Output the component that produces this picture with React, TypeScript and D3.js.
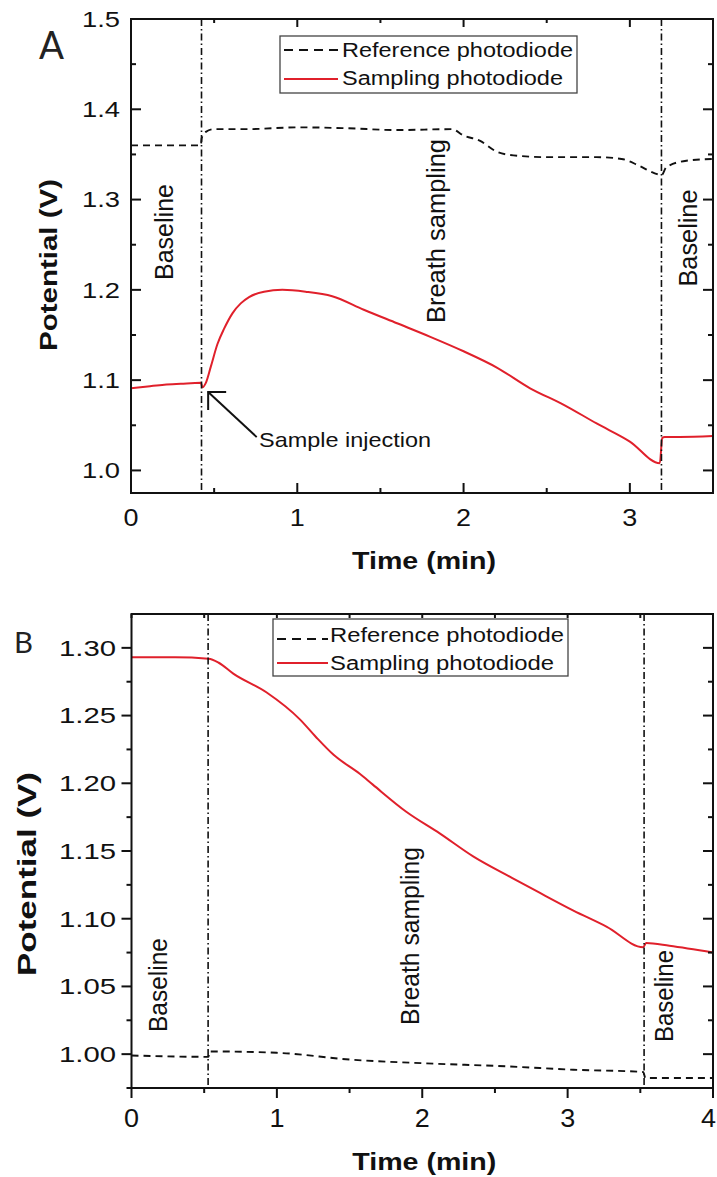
import React from 'react';
import * as d3 from 'd3';

// ---------- Panel A data ----------
const aSampT = [0, 0.1, 0.2, 0.3, 0.42, 0.43, 0.45, 0.48, 0.52, 0.56, 0.61, 0.66, 0.71, 0.8, 0.91, 1.05, 1.21, 1.4, 1.6, 1.8, 2.0, 2.2, 2.4, 2.6, 2.8, 3.0, 3.18, 3.195, 3.21, 3.3, 3.5];
const aSampV = [1.091, 1.093, 1.095, 1.096, 1.097, 1.092, 1.097, 1.115, 1.14, 1.157, 1.174, 1.185, 1.192, 1.198, 1.2, 1.198, 1.193, 1.178, 1.163, 1.148, 1.132, 1.114, 1.091, 1.073, 1.052, 1.032, 1.008, 1.036, 1.037, 1.037, 1.038];
const aRefT = [0, 0.42, 0.425, 0.45, 0.5, 0.7, 1.0, 1.3, 1.6, 1.93, 2.0, 2.1, 2.2, 2.3, 2.5, 2.8, 2.95, 3.05, 3.15, 3.19, 3.22, 3.34, 3.5];
const aRefV = [1.36, 1.36, 1.368, 1.375, 1.378, 1.378, 1.38, 1.379, 1.377, 1.378, 1.371, 1.365, 1.353, 1.349, 1.347, 1.347, 1.345, 1.338, 1.329, 1.327, 1.336, 1.343, 1.345];
const aEvents = [0.424, 3.19];
const aXTicks = [0, 1, 2, 3];
const aXMinor = [0.5, 1.5, 2.5, 3.5];
const aYTicks = [1.0, 1.1, 1.2, 1.3, 1.4, 1.5];
const aYMinor = [1.05, 1.15, 1.25, 1.35, 1.45];

// ---------- Panel B data ----------
const bSampT = [0, 0.3, 0.53, 0.6, 0.7, 0.93, 1.16, 1.27, 1.39, 1.57, 1.66, 1.89, 2.12, 2.35, 2.62, 2.81, 3.04, 3.27, 3.52, 3.54, 3.7, 4.0];
const bSampV = [1.293, 1.293, 1.292, 1.289, 1.281, 1.267, 1.247, 1.234, 1.221, 1.207, 1.199, 1.179, 1.163, 1.146, 1.13, 1.119, 1.106, 1.094, 1.079, 1.082, 1.08, 1.075];
const bRefT = [0, 0.53, 0.535, 1.0, 1.5, 2.0, 2.58, 3.04, 3.52, 3.535, 4.0];
const bRefV = [0.999, 0.998, 1.002, 1.001, 0.996, 0.9933, 0.991, 0.9885, 0.9868, 0.9824, 0.9824];
const bEvents = [0.527, 3.526];
const bXTicks = [0, 1, 2, 3, 4];
const bXMinor = [0.5, 1.5, 2.5, 3.5];
const bYTicks = [1.0, 1.05, 1.1, 1.15, 1.2, 1.25, 1.3];
const bYMinor = [0.975, 1.025, 1.075, 1.125, 1.175, 1.225, 1.275];

const seriesNames = ['Reference photodiode', 'Sampling photodiode'];
const RED = '#e0202b';
const FONT = "'Liberation Sans', Arial, sans-serif";
const W = 717;

type Txt = { text: string; x: number; y: number; size: number; len: number; rot?: boolean; bold?: boolean; anchor?: string };

function T({ t }: { t: Txt }) {
  const common: any = {
    fontFamily: FONT,
    fontSize: t.size,
    fontWeight: t.bold ? 'bold' : 'normal',
    textLength: t.len,
    lengthAdjust: 'spacingAndGlyphs',
    textAnchor: t.anchor || 'middle',
    fill: '#111',
  };
  if (t.rot) {
    return (
      <text {...common} transform={`translate(${t.x},${t.y}) rotate(-90)`}>
        {t.text}
      </text>
    );
  }
  return (
    <text {...common} x={t.x} y={t.y}>
      {t.text}
    </text>
  );
}

type PanelProps = {
  left: number; right: number; top: number; bottom: number;
  xDomain: [number, number]; yDomain: [number, number];
  xTicks: number[]; xMinor: number[]; yTicks: number[]; yMinor: number[];
  yFmt: string; outward: boolean;
  sampT: number[]; sampV: number[]; refT: number[]; refV: number[];
  events: number[];
  yLabel: { size: number; len: number; x: number; y: number };
  yTickSize: number; yTickLen: number; yTickEnd: number;
  xTickSize: number; xTickLen: number; xTickBase: number;
  xTitleBase: number;
  legend: { x0: number; x1: number; y0: number; y1: number; textX: number; row1: number; row2: number; dashY: number; redY: number; len1: number; len2: number; lineX0: number; lineX1: number };
  annotations: Txt[];
  letter: { text: string; x: number; y: number; size: number; len: number };
  arrow?: { tip: [number, number]; tail: [number, number] };
};

function Panel(p: PanelProps) {
  const x = d3.scaleLinear().domain(p.xDomain).range([p.left, p.right]);
  const y = d3.scaleLinear().domain(p.yDomain).range([p.bottom, p.top]);
  const line = d3
    .line<[number, number]>()
    .x((d) => x(d[0]))
    .y((d) => y(d[1]))
    .curve(d3.curveMonotoneX);
  const samp = p.sampT.map((t, i) => [t, p.sampV[i]] as [number, number]);
  const ref = p.refT.map((t, i) => [t, p.refV[i]] as [number, number]);
  const fmt = d3.format(p.yFmt);
  const MJ = 10, MN = 5;
  const dirB = p.outward ? 1 : -1; // bottom tick direction
  const dirL = p.outward ? -1 : 1; // left tick direction
  const cx = (p.left + p.right) / 2;

  return (
    <g>
      {/* data */}
      <path d={line(ref) || ''} fill="none" stroke="#111" strokeWidth={1.9} strokeDasharray="7,5" />
      <path d={line(samp) || ''} fill="none" stroke={RED} strokeWidth={2} />
      {/* event lines */}
      {p.events.map((e, i) => (
        <line key={'ev' + i} x1={x(e)} x2={x(e)} y1={p.top} y2={p.bottom} stroke="#111" strokeWidth={1.6} strokeDasharray="7,3,1.5,3" />
      ))}
      {/* frame */}
      <rect x={p.left} y={p.top} width={p.right - p.left} height={p.bottom - p.top} fill="none" stroke="#111" strokeWidth={2} />
      {/* bottom / top ticks */}
      {p.xTicks.map((t) => (
        <g key={'xt' + t}>
          <line x1={x(t)} x2={x(t)} y1={p.bottom} y2={p.bottom + dirB * MJ} stroke="#111" strokeWidth={2} />
          <line x1={x(t)} x2={x(t)} y1={p.top} y2={p.top + (p.outward ? 4 : 8)} stroke="#111" strokeWidth={2} />
          <T t={{ text: String(t), x: Math.min(x(t), W - p.xTickLen / 2 - 1), y: p.xTickBase, size: p.xTickSize, len: p.xTickLen }} />
        </g>
      ))}
      {p.xMinor.map((t) => (
        <g key={'xm' + t}>
          <line x1={x(t)} x2={x(t)} y1={p.bottom} y2={p.bottom + dirB * MN} stroke="#111" strokeWidth={2} />
          <line x1={x(t)} x2={x(t)} y1={p.top} y2={p.top + 4} stroke="#111" strokeWidth={2} />
        </g>
      ))}
      {/* left / right ticks */}
      {p.yTicks.map((v) => (
        <g key={'yt' + v}>
          <line x1={p.left} x2={p.left + dirL * MJ} y1={y(v)} y2={y(v)} stroke="#111" strokeWidth={2} />
          <line x1={p.right} x2={p.right - MJ} y1={y(v)} y2={y(v)} stroke="#111" strokeWidth={2} />
          <T t={{ text: fmt(v), x: p.yTickEnd, y: y(v) + p.yTickSize * 0.36, size: p.yTickSize, len: p.yTickLen, anchor: 'end' }} />
        </g>
      ))}
      {p.yMinor.map((v) => (
        <g key={'ym' + v}>
          <line x1={p.left} x2={p.left + dirL * MN} y1={y(v)} y2={y(v)} stroke="#111" strokeWidth={2} />
          <line x1={p.right} x2={p.right - MN} y1={y(v)} y2={y(v)} stroke="#111" strokeWidth={2} />
        </g>
      ))}
      {/* axis titles */}
      <T t={{ text: 'Time (min)', x: cx + 2, y: p.xTitleBase, size: 24, len: 144, bold: true }} />
      <T t={{ text: 'Potential (V)', x: p.yLabel.x, y: p.yLabel.y, size: p.yLabel.size, len: p.yLabel.len, bold: true, rot: true }} />
      {/* legend */}
      <rect x={p.legend.x0} y={p.legend.y0} width={p.legend.x1 - p.legend.x0} height={p.legend.y1 - p.legend.y0} fill="#fff" stroke="#444" strokeWidth={1.3} />
      <line x1={p.legend.lineX0} x2={p.legend.lineX1} y1={p.legend.dashY} y2={p.legend.dashY} stroke="#111" strokeWidth={1.9} strokeDasharray="9,6" />
      <line x1={p.legend.lineX0} x2={p.legend.lineX1} y1={p.legend.redY} y2={p.legend.redY} stroke={RED} strokeWidth={2} />
      <T t={{ text: seriesNames[0], x: p.legend.textX, y: p.legend.row1, size: 20, len: p.legend.len1, anchor: 'start' }} />
      <T t={{ text: seriesNames[1], x: p.legend.textX, y: p.legend.row2, size: 20, len: p.legend.len2, anchor: 'start' }} />
      {/* annotations */}
      {p.annotations.map((a, i) => (
        <T key={'an' + i} t={a} />
      ))}
      {p.arrow && (
        <g stroke="#111" strokeWidth={2} fill="none">
          <line x1={x(p.arrow.tail[0])} y1={y(p.arrow.tail[1])} x2={x(p.arrow.tip[0])} y2={y(p.arrow.tip[1])} />
          <polyline
            points={`${x(p.arrow.tip[0]) + 18},${y(p.arrow.tip[1])} ${x(p.arrow.tip[0])},${y(p.arrow.tip[1])} ${x(p.arrow.tip[0])},${y(p.arrow.tip[1]) + 18}`}
          />
        </g>
      )}
      <text x={p.letter.x} y={p.letter.y} fontFamily="Lato, 'Open Sans', sans-serif" fontWeight={400} fontSize={p.letter.size} textLength={p.letter.len} lengthAdjust="spacingAndGlyphs" fill="#222">
        {p.letter.text}
      </text>
    </g>
  );
}

export default function App() {
  return (
    <svg width={717} height={1177} style={{ position: 'absolute', left: 0, top: 0, background: '#fff' }}>
      <rect x={0} y={0} width={717} height={1177} fill="#fff" />
      <Panel
        left={131} right={713} top={19} bottom={493}
        xDomain={[0, 3.5]} yDomain={[0.975, 1.5]}
        xTicks={aXTicks} xMinor={aXMinor} yTicks={aYTicks} yMinor={aYMinor}
        yFmt=".1f" outward={false}
        sampT={aSampT} sampV={aSampV} refT={aRefT} refV={aRefV}
        events={aEvents}
        yLabel={{ size: 24, len: 172, x: 57, y: 265 }}
        yTickSize={22} yTickLen={38} yTickEnd={120}
        xTickSize={24} xTickLen={15} xTickBase={526}
        xTitleBase={569}
        legend={{ x0: 280, x1: 577, y0: 36, y1: 93, textX: 342, row1: 57, row2: 85, dashY: 50, redY: 79, len1: 231, len2: 221, lineX0: 284, lineX1: 338 }}
        annotations={[
          { text: 'Baseline', x: 173, y: 232, size: 25, len: 96, rot: true },
          { text: 'Breath sampling', x: 445, y: 231, size: 25, len: 184, rot: true },
          { text: 'Baseline', x: 697, y: 238, size: 25, len: 97, rot: true },
          { text: 'Sample injection', x: 259, y: 447, size: 21, len: 172, anchor: 'start' },
        ]}
        letter={{ text: 'A', x: 39, y: 59, size: 38, len: 25 }}
        arrow={{ tip: [0.464, 1.0868], tail: [0.756, 1.0369] }}
      />
      <Panel
        left={131.5} right={713} top={614} bottom={1088}
        xDomain={[0, 4]} yDomain={[0.975, 1.325]}
        xTicks={bXTicks} xMinor={bXMinor} yTicks={bYTicks} yMinor={bYMinor}
        yFmt=".2f" outward={true}
        sampT={bSampT} sampV={bSampV} refT={bRefT} refV={bRefV}
        events={bEvents}
        yLabel={{ size: 26, len: 204, x: 36, y: 874 }}
        yTickSize={22} yTickLen={57} yTickEnd={116}
        xTickSize={25} xTickLen={15} xTickBase={1127}
        xTitleBase={1170}
        legend={{ x0: 273, x1: 568, y0: 619, y1: 676, textX: 330, row1: 642, row2: 670, dashY: 639, redY: 663, len1: 234, len2: 224, lineX0: 277, lineX1: 328 }}
        annotations={[
          { text: 'Baseline', x: 167, y: 985, size: 25, len: 94, rot: true },
          { text: 'Breath sampling', x: 419, y: 936, size: 25, len: 178, rot: true },
          { text: 'Baseline', x: 673, y: 996, size: 25, len: 92, rot: true },
        ]}
        letter={{ text: 'B', x: 14, y: 653, size: 28, len: 19 }}
      />
    </svg>
  );
}
